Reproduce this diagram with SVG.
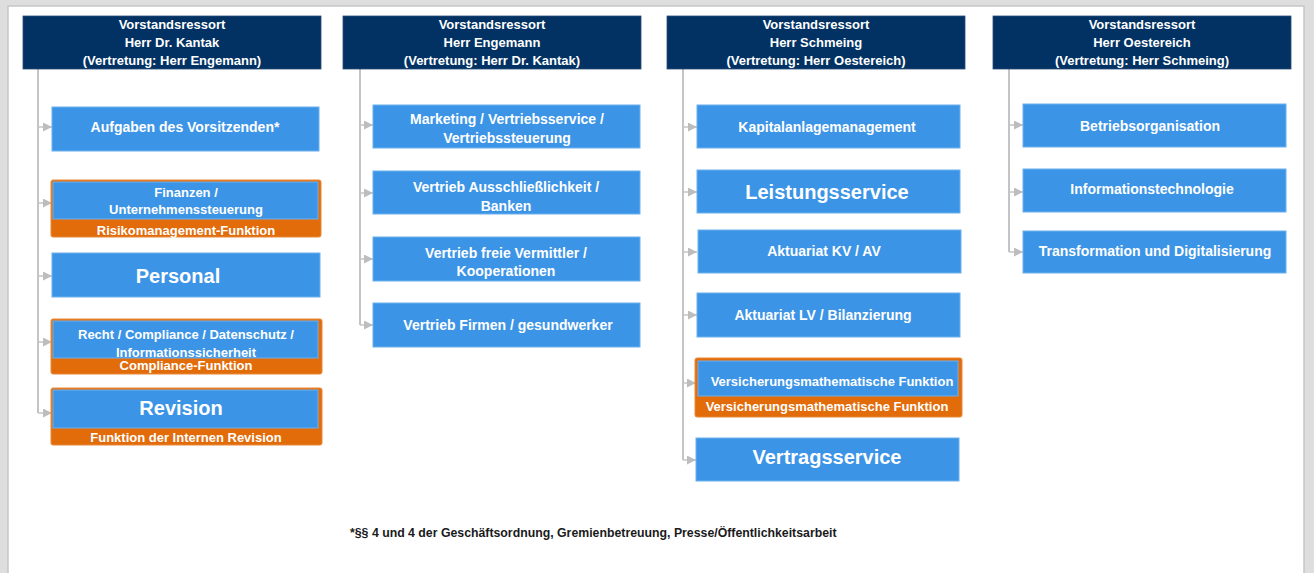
<svg xmlns="http://www.w3.org/2000/svg" width="1314" height="573" viewBox="0 0 1314 573">
<defs>
<style>
.hdr{fill:#013263;stroke:#2a4d78;stroke-width:0.8}
.box{fill:#3c94e6;stroke:#6cb0ee;stroke-width:1}
.org{fill:#e26b0a;stroke:#e8893a;stroke-width:1}
text{font-family:"Liberation Sans",Arial,sans-serif;font-weight:bold;fill:#ffffff;text-anchor:middle}
.h{font-size:13px}
.t{font-size:14px}
.s{font-size:13px}
.b{font-size:20px}
.fn{font-size:12.3px;fill:#1a1a1a;text-anchor:start}
.ln{stroke:#c4c4c4;stroke-width:2;fill:none}
.ar{stroke:#c4c4c4;stroke-width:1.5;fill:none;marker-end:url(#ah)}
</style>
<marker id="ah" viewBox="0 0 10 10" refX="10" refY="5" markerWidth="6" markerHeight="6" orient="auto" markerUnits="strokeWidth">
<path d="M0,0 L10,5 L0,10 z" fill="#bdbdbd"/>
</marker>
</defs>
<rect x="0" y="0" width="1314" height="573" fill="#dedede"/>
<rect x="8" y="6" width="1296" height="568" fill="#ffffff" stroke="#c6c6c6" stroke-width="1.5"/>

<g id="connectors">
<path class="ln" d="M38,69 V413"/>
<path class="ar" d="M38,127 H52"/>
<path class="ar" d="M38,203 H52"/>
<path class="ar" d="M38,276 H52"/>
<path class="ar" d="M38,342 H52"/>
<path class="ar" d="M38,413 H52"/>
<path class="ln" d="M360,69 V325"/>
<path class="ar" d="M360,125 H373"/>
<path class="ar" d="M360,193 H373"/>
<path class="ar" d="M360,259 H373"/>
<path class="ar" d="M360,325 H373"/>
<path class="ln" d="M683,69 V460"/>
<path class="ar" d="M683,127 H697"/>
<path class="ar" d="M683,192 H697"/>
<path class="ar" d="M683,252 H697"/>
<path class="ar" d="M683,315 H697"/>
<path class="ar" d="M683,383 H696"/>
<path class="ar" d="M683,460 H696"/>
<path class="ln" d="M1009,69 V252"/>
<path class="ar" d="M1009,125 H1023"/>
<path class="ar" d="M1009,192 H1023"/>
<path class="ar" d="M1009,252 H1023"/>
</g>

<g id="hdr1"><rect class="hdr" x="23" y="16" width="298" height="53"/>
<text class="h" x="172" y="29">Vorstandsressort</text><text class="h" x="172" y="47">Herr Dr. Kantak</text><text class="h" x="172" y="65">(Vertretung: Herr Engemann)</text></g>
<g id="hdr2"><rect class="hdr" x="343" y="16" width="298" height="53"/>
<text class="h" x="492" y="29">Vorstandsressort</text><text class="h" x="492" y="47">Herr Engemann</text><text class="h" x="492" y="65">(Vertretung: Herr Dr. Kantak)</text></g>
<g id="hdr3"><rect class="hdr" x="667" y="16" width="298" height="53"/>
<text class="h" x="816" y="29">Vorstandsressort</text><text class="h" x="816" y="47">Herr Schmeing</text><text class="h" x="816" y="65">(Vertretung: Herr Oestereich)</text></g>
<g id="hdr4"><rect class="hdr" x="993" y="16" width="298" height="53"/>
<text class="h" x="1142" y="29">Vorstandsressort</text><text class="h" x="1142" y="47">Herr Oestereich</text><text class="h" x="1142" y="65">(Vertretung: Herr Schmeing)</text></g>

<g id="aufgaben"><rect class="box" x="52" y="107" width="267" height="44"/><text class="t" x="185" y="132">Aufgaben des Vorsitzenden*</text></g>
<g id="finanzen"><rect class="org" x="51" y="180" width="270" height="57" rx="2"/><rect class="box" x="53" y="182" width="265" height="37"/>
<text class="s" x="186" y="197">Finanzen /</text><text class="s" x="186" y="214">Unternehmenssteuerung</text><text class="s" x="186" y="235">Risikomanagement-Funktion</text></g>
<g id="personal"><rect class="box" x="52" y="253" width="268" height="44"/><text class="b" x="178" y="283">Personal</text></g>
<g id="recht"><rect class="org" x="51" y="319" width="271" height="55" rx="2"/><rect class="box" x="53" y="321" width="265" height="37"/>
<text class="s" x="186" y="339">Recht / Compliance / Datenschutz /</text><text class="s" x="186" y="357">Informationssicherheit</text><text class="s" x="186" y="370">Compliance-Funktion</text></g>
<g id="revision"><rect class="org" x="51" y="388" width="271" height="57" rx="2"/><rect class="box" x="53" y="390" width="265" height="38"/>
<text class="b" x="181" y="415">Revision</text><text class="s" x="186" y="442">Funktion der Internen Revision</text></g>

<g id="marketing"><rect class="box" x="373" y="105" width="267" height="43"/><text class="t" x="507" y="124">Marketing / Vertriebsservice /</text><text class="t" x="507" y="143">Vertriebssteuerung</text></g>
<g id="ausschliesslichkeit"><rect class="box" x="373" y="171" width="267" height="43"/><text class="t" x="506" y="192">Vertrieb Ausschließlichkeit /</text><text class="t" x="506" y="211">Banken</text></g>
<g id="vermittler"><rect class="box" x="373" y="237" width="267" height="44"/><text class="t" x="506" y="258">Vertrieb freie Vermittler /</text><text class="t" x="506" y="276">Kooperationen</text></g>
<g id="firmen"><rect class="box" x="373" y="303" width="267" height="44"/><text class="t" x="508" y="330">Vertrieb Firmen / gesundwerker</text></g>

<g id="kapital"><rect class="box" x="697" y="105" width="263" height="43"/><text class="t" x="827" y="132">Kapitalanlagemanagement</text></g>
<g id="leistung"><rect class="box" x="697" y="170" width="263" height="43"/><text class="b" x="827" y="199">Leistungsservice</text></g>
<g id="kvav"><rect class="box" x="698" y="230" width="263" height="43"/><text class="t" x="824" y="256">Aktuariat KV / AV</text></g>
<g id="lvbil"><rect class="box" x="697" y="293" width="263" height="44"/><text class="t" x="823" y="320">Aktuariat LV / Bilanzierung</text></g>
<g id="vmf"><rect class="org" x="695" y="358" width="267" height="59" rx="2"/><rect class="box" x="698" y="361" width="260" height="35"/>
<text class="s" x="832" y="386">Versicherungsmathematische Funktion</text><text class="s" x="827" y="411">Versicherungsmathematische Funktion</text></g>
<g id="vertrag"><rect class="box" x="696" y="438" width="263" height="43"/><text class="b" x="827" y="464">Vertragsservice</text></g>

<g id="betrieb"><rect class="box" x="1023" y="104" width="263" height="43"/><text class="t" x="1150" y="131">Betriebsorganisation</text></g>
<g id="it"><rect class="box" x="1023" y="169" width="263" height="43"/><text class="t" x="1152" y="194">Informationstechnologie</text></g>
<g id="transformation"><rect class="box" x="1023" y="231" width="263" height="42"/><text class="t" x="1155" y="256">Transformation und Digitalisierung</text></g>

<text class="fn" x="350" y="537">*§§ 4 und 4 der Geschäftsordnung, Gremienbetreuung, Presse/Öffentlichkeitsarbeit</text>
</svg>
